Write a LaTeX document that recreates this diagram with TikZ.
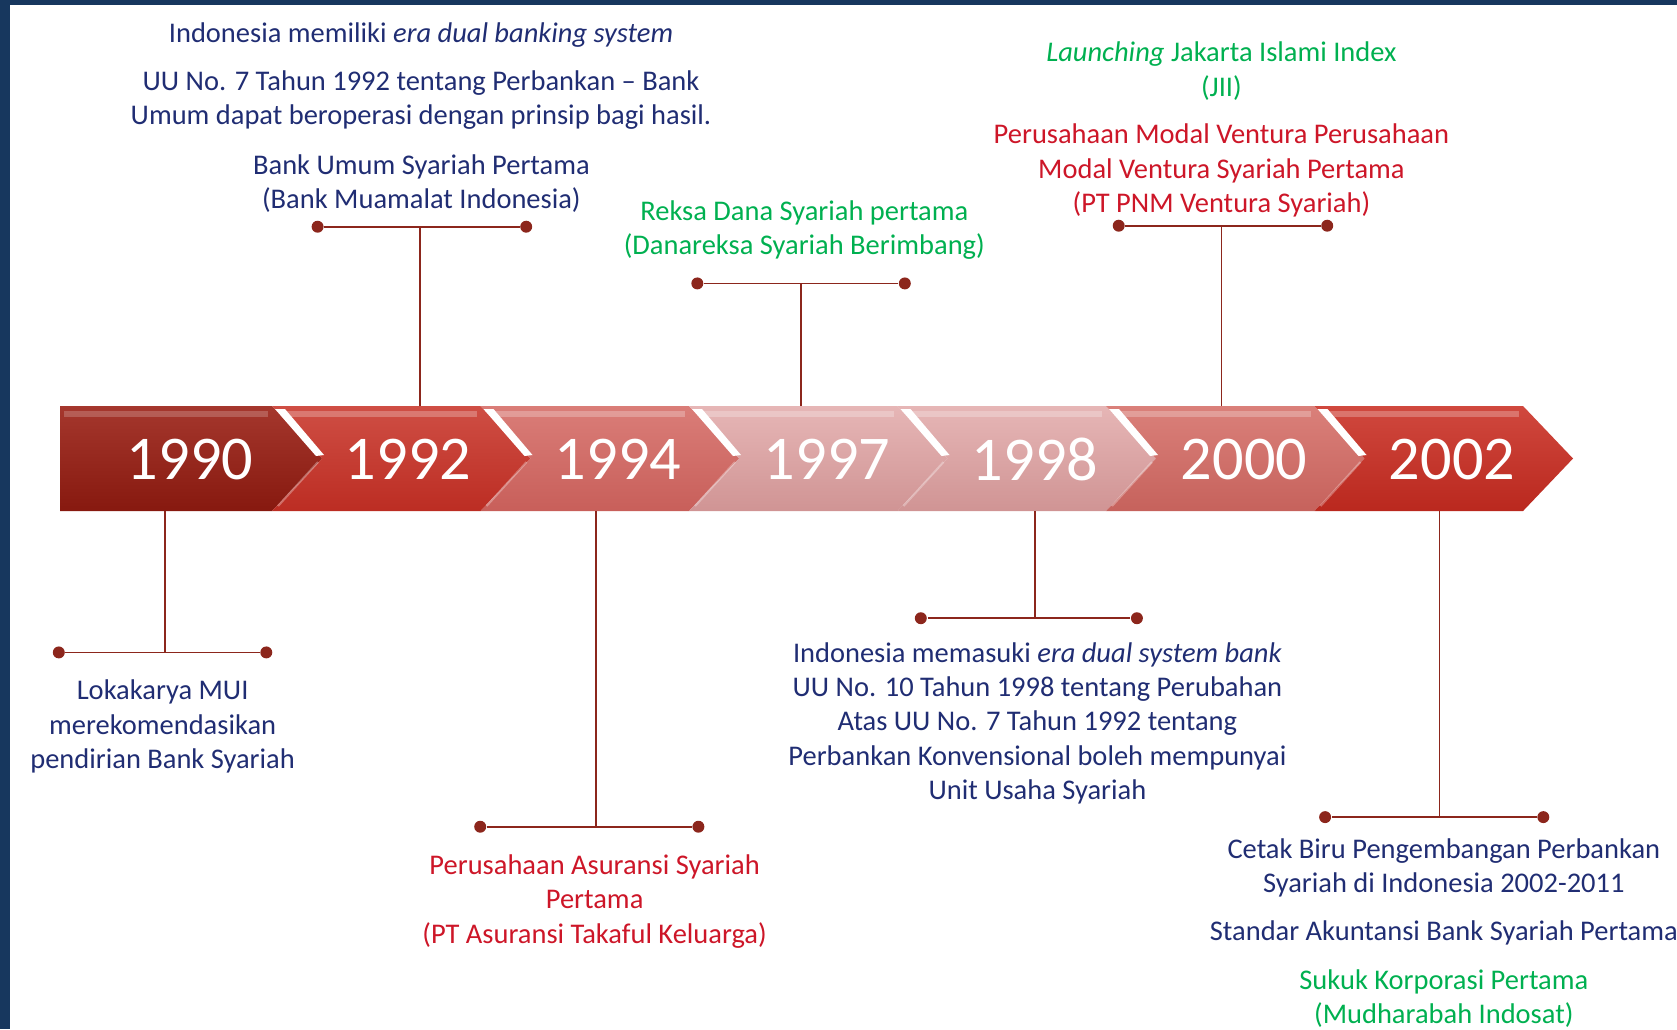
\documentclass[tikz,border=0pt]{standalone}
\usepackage{fontspec}
\setmainfont{Carlito}
\definecolor{framenavy}{RGB}{23,55,94}
\definecolor{textnavy}{RGB}{32,45,115}
\definecolor{textred}{RGB}{205,22,40}
\definecolor{textgreen}{RGB}{0,176,80}
\definecolor{linkred}{RGB}{140,38,28}
\begin{document}
\begin{tikzpicture}[x=0.01cm,y=-0.01cm,
    txt/.style={align=center,font=\fontsize{8.1}{9.73}\selectfont,inner sep=0pt},
    yearlbl/.style={text=white,font=\fontsize{17.7}{20}\selectfont,inner sep=0pt},
    link/.style={linkred,line width=0.5pt},
    dot/.style={circle,fill=linkred,inner sep=0pt,minimum size=3.4pt}]
    \useasboundingbox (0,0) rectangle (1677,1029);
    %% frame
    \fill[framenavy] (0,0) rectangle (1677,5);
    \fill[framenavy] (0,0) rectangle (10,1029);
    %% band: first chevron
    \shade[top color={rgb,255:red,165;green,55;blue,45},bottom color={rgb,255:red,135;green,25;blue,15}]
        (60,406) -- (272,406) -- (322,458.5) -- (272,511) -- (60,511) -- cycle;
    \fill[white,opacity=0.2] (64,411) rectangle (268,417);
    %% band: other chevrons
    \foreach \k/\tr/\tg/\tb/\br/\bg/\bb in {1/207/78/68/188/45/35,
            2/218/125/120/200/95/90,3/230/182/182/208/148/148,
            4/230/182/182/208/148/148,5/218/128/122/198/98/92,
            6/208/72/62/186/40/30}
    {
        \pgfmathsetmacro{\xa}{272+208.5*(\k-1)}
        \pgfmathsetmacro{\xb}{\xa+208.5}
        \shade[top color={rgb,255:red,\tr;green,\tg;blue,\tb},bottom color={rgb,255:red,\br;green,\bg;blue,\bb}]
            (\xa,406) -- (\xb,406) -- (\xb+50,458.5) -- (\xb,511) -- (\xa,511) -- (\xa+50,458.5) -- cycle;
        \fill[white,opacity=0.25] (\xa+14,411) rectangle (\xb-4,417);
        \fill[white] (\xa+3,409) -- (\xa+13,409) -- (\xa+52,455) -- (\xa+44,456) -- cycle;
        \draw[white,opacity=0.3,line width=0.6pt] (\xa+46,462) -- (\xa+6,506);
    }
    %% years
    \foreach \a/\b in {190/1990,408/1992,618/1994,827/1997,1035/1998,1244/2000,1452/2002}
        \node[yearlbl] (y\b) at (\a,459) {\b};
    %% 1990 (below)
    \coordinate (s1990) at (164.7,511);
    \node[dot] (l1990) at (58.8,652.4) {};
    \node[dot] (r1990) at (266.3,652.4) {};
    \coordinate (m1990) at (164.7,652.4);
    \draw[link] (l1990) -- (r1990);
    \draw[link] (s1990) -- (m1990);
    \node[txt,text=textnavy] (t1990) at (162.6,726.4)
        {Lokakarya MUI\\merekomendasikan\\pendirian Bank Syariah};
    %% 1992 (above)
    \coordinate (s1992) at (420.3,406);
    \node[dot] (l1992) at (317.6,226.7) {};
    \node[dot] (r1992) at (526.2,226.7) {};
    \coordinate (m1992) at (420.3,226.7);
    \draw[link] (l1992) -- (r1992);
    \draw[link] (s1992) -- (m1992);
    \node[txt,text=textnavy] (t1992a) at (421.4,183.8)
        {Bank Umum Syariah Pertama\\(Bank Muamalat Indonesia)};
    \node[txt,text=textnavy] (t1992b) at (421,100.3)
        {UU No. 7 Tahun 1992 tentang Perbankan -- Bank\\Umum dapat beroperasi dengan prinsip bagi hasil.};
    \node[txt,text=textnavy] (t1992c) at (421,35.1)
        {Indonesia memiliki \textit{era dual banking system}};
    %% 1994 (below)
    \coordinate (s1994) at (595.7,511);
    \node[dot] (l1994) at (480.2,826.7) {};
    \node[dot] (r1994) at (698.4,826.7) {};
    \coordinate (m1994) at (595.7,826.7);
    \draw[link] (l1994) -- (r1994);
    \draw[link] (s1994) -- (m1994);
    \node[txt,text=textred] (t1994) at (594.6,901.4)
        {Perusahaan Asuransi Syariah\\Pertama\\(PT Asuransi Takaful Keluarga)};
    %% 1997 (above)
    \coordinate (s1997) at (801,406);
    \node[dot] (l1997) at (697.3,283.4) {};
    \node[dot] (r1997) at (904.8,283.4) {};
    \coordinate (m1997) at (801,283.4);
    \draw[link] (l1997) -- (r1997);
    \draw[link] (s1997) -- (m1997);
    \node[txt,text=textgreen] (t1997) at (804.3,229.8)
        {Reksa Dana Syariah pertama\\(Danareksa Syariah Berimbang)};
    %% 1998 (below)
    \coordinate (s1998) at (1035.3,511);
    \node[dot] (l1998) at (920.8,618.2) {};
    \node[dot] (r1998) at (1136.9,618.2) {};
    \coordinate (m1998) at (1035.3,618.2);
    \draw[link] (l1998) -- (r1998);
    \draw[link] (s1998) -- (m1998);
    \node[txt,text=textnavy] (t1998) at (1037.4,723.3)
        {Indonesia memasuki \textit{era dual system bank}\\UU No. 10 Tahun 1998 tentang Perubahan\\Atas UU No. 7 Tahun 1992 tentang\\Perbankan Konvensional boleh mempunyai\\Unit Usaha Syariah};
    %% 2000 (above)
    \coordinate (s2000) at (1221.4,406);
    \node[dot] (l2000) at (1118.7,225.7) {};
    \node[dot] (r2000) at (1327.2,225.7) {};
    \coordinate (m2000) at (1221.4,225.7);
    \draw[link] (l2000) -- (r2000);
    \draw[link] (s2000) -- (m2000);
    \node[txt,text=textred] (t2000a) at (1221.4,170.4)
        {Perusahaan Modal Ventura Perusahaan\\Modal Ventura Syariah Pertama\\(PT PNM Ventura Syariah)};
    \node[txt,text=textgreen] (t2000b) at (1221.4,71)
        {\textit{Launching} Jakarta Islami Index\\(JII)};
    %% 2002 (below)
    \coordinate (s2002) at (1439.5,511);
    \node[dot] (l2002) at (1325.1,817.1) {};
    \node[dot] (r2002) at (1543.3,817.1) {};
    \coordinate (m2002) at (1439.5,817.1);
    \draw[link] (l2002) -- (r2002);
    \draw[link] (s2002) -- (m2002);
    \node[txt,text=textnavy] (t2002a) at (1443.8,868.2)
        {Cetak Biru Pengembangan Perbankan\\Syariah di Indonesia 2002-2011};
    \node[txt,text=textnavy] (t2002b) at (1443.8,933)
        {Standar Akuntansi Bank Syariah Pertama};
    \node[txt,text=textgreen] (t2002c) at (1443.8,998.2)
        {Sukuk Korporasi Pertama\\(Mudharabah Indosat)};
\end{tikzpicture}
\end{document}
